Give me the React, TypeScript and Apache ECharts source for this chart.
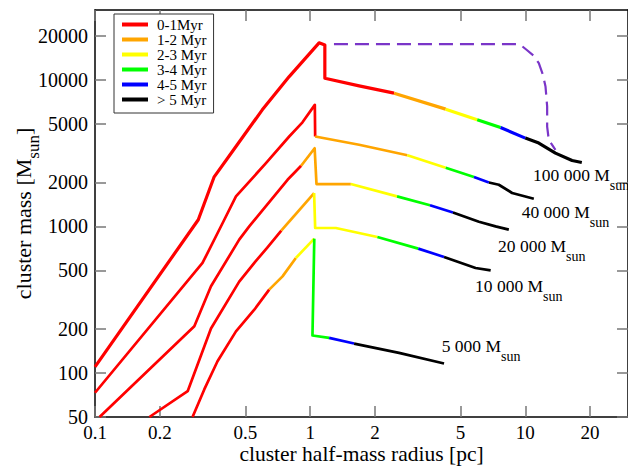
import React, { useEffect, useRef } from "react";
import * as echarts from "echarts";

const FONT = "'Liberation Serif', 'Times New Roman', serif";

const ageBins = ["0-1Myr", "1-2 Myr", "2-3 Myr", "3-4 Myr", "4-5 Myr", "> 5 Myr"];
const ageColors = ["#ff0000", "#ffa500", "#ffff00", "#00ff00", "#0000ff", "#000000"];

const xTicks = [0.1, 0.2, 0.5, 1, 2, 5, 10, 20];
const yTicks = [50, 100, 200, 500, 1000, 2000, 5000, 10000, 20000];
const xRange = [0.1, 30];
const yRange = [50, 30000];

// 100 000 Msun cluster: radius [pc], mass [Msun], age bin of each segment
const r100k = [0.1, 0.302, 0.358, 0.452, 0.599, 0.799, 1.1, 1.17, 1.17, 1.688, 2.454, 4.264, 5.975, 7.67, 10.0, 11.55, 13.8, 16.49, 18.3];
const m100k = [110, 1110, 2180, 3510, 6245, 10530, 17900, 17300, 10270, 9100, 8115, 6315, 5340, 4730, 4005, 3703, 3165, 2818, 2731];
const age100k = [0, 0, 0, 0, 0, 0, 0, 0, 0, 0, 1, 2, 3, 4, 5, 5, 5, 5];

// 40 000 Msun
const r40k = [0.1, 0.316, 0.392, 0.452, 0.623, 0.799, 0.921, 1.051, 1.055, 1.688, 2.83, 4.264, 5.77, 6.77, 7.53, 8.68, 10.95];
const m40k = [73.2, 563, 1055, 1602, 2705, 4108, 5132, 6755, 4108, 3606, 3057, 2512, 2171, 1995, 1924, 1690, 1545];
const age40k = [0, 0, 0, 0, 0, 0, 0, 0, 1, 1, 2, 3, 4, 5, 5, 5];

// 20 000 Msun
const r20k = [0.105, 0.2895, 0.346, 0.468, 0.521, 0.785, 0.908, 1.049, 1.07, 1.545, 2.533, 3.605, 4.61, 6.085, 7.27, 8.38];
const m20k = [50, 208, 390, 812, 1000, 2081, 2593, 3413, 1946, 1946, 1602, 1395, 1243, 1077, 1000, 950];
const age20k = [0, 0, 0, 0, 0, 0, 1, 1, 1, 2, 3, 4, 5, 5, 5];

// 10 000 Msun
const r10k = [0.179, 0.2696, 0.346, 0.468, 0.556, 0.632, 0.734, 1.043, 1.055, 1.316, 2.053, 3.18, 4.19, 5.87, 6.9];
const m10k = [50, 75, 201, 420, 575, 716, 935, 1690, 975, 975, 847, 705, 619, 520, 501];
const age10k = [0, 0, 0, 0, 0, 0, 1, 2, 2, 2, 3, 4, 5, 5];

// 5 000 Msun
const r5k = [0.284, 0.322, 0.371, 0.452, 0.55, 0.645, 0.744, 0.858, 1.045, 1.025, 1.225, 1.6, 2.588, 4.19];
const m5k = [50, 77.1, 120, 192, 270, 370, 456, 609, 825, 180, 173.5, 158.6, 137, 116];
const age5k = [0, 0, 0, 0, 0, 1, 1, 2, 3, 3, 4, 5, 5];

// dashed track
const rDash = [1.29, 9.14, 9.63, 10.16, 10.95, 11.55, 12.07, 12.41, 12.63, 12.63, 12.85, 13.8];
const mDash = [17520, 17520, 17050, 16000, 14580, 13000, 10815, 9000, 6580, 4806, 3900, 3335];

const curveLabels = ["100 000 M", "40 000 M", "20 000 M", "10 000 M", "5 000 M"];

const lg = (v: number) => Math.log10(v);

function nearestLabel(ticks: number[], v: number) {
  let best = ticks[0];
  let d = Infinity;
  for (const t of ticks) {
    const dd = Math.abs(lg(t) - v);
    if (dd < d) {
      d = dd;
      best = t;
    }
  }
  return String(best);
}

function curveSeries(r: number[], m: number[], age: number[], width: number) {
  const out: any[] = [];
  let s = 0;
  for (let k = 1; k <= age.length; k++) {
    if (k === age.length || age[k] !== age[s]) {
      const bin = age[s];
      const pts: number[][] = [];
      for (let j = s; j <= k; j++) pts.push([lg(r[j]), lg(m[j])]);
      out.push({
        type: "line",
        name: ageBins[bin],
        data: pts,
        symbol: "none",
        showSymbol: false,
        silent: true,
        clip: true,
        lineStyle: { color: ageColors[bin], width, join: "round" },
        itemStyle: { color: ageColors[bin] },
        z: 3,
      });
      s = k;
    }
  }
  return out;
}

function subLabel(main: string, x: number, y: number) {
  return {
    type: "text",
    x,
    y,
    z: 20,
    style: {
      text: `{a|${main}}{s|sun}`,
      align: "left",
      verticalAlign: "middle",
      fill: "#000",
      rich: {
        a: { fontFamily: FONT, fontSize: 17.5, lineHeight: 20, fill: "#000" },
        s: { fontFamily: FONT, fontSize: 14, lineHeight: 16, padding: [21, 0, 0, 0], fill: "#000" },
      },
    },
  };
}

export default function App() {
  const ref = useRef<HTMLDivElement>(null);

  useEffect(() => {
    if (!ref.current) return;
    const chart = echarts.init(ref.current, undefined, { renderer: "svg" });

    const xLogTicks = xTicks.map(lg);
    const yLogTicks = yTicks.map(lg);

    const axisCommon = {
      type: "value",
      splitLine: { show: false },
      axisLine: { show: true, onZero: false, lineStyle: { color: "#000", width: 1.5 } },
      axisTick: { show: true, inside: true, length: 11, lineStyle: { color: "#777", width: 1.5 } },
    };

    const series: any[] = [
      ...curveSeries(r100k, m100k, age100k, 3.2),
      ...curveSeries(r40k, m40k, age40k, 2.7),
      ...curveSeries(r20k, m20k, age20k, 2.7),
      ...curveSeries(r10k, m10k, age10k, 2.7),
      ...curveSeries(r5k, m5k, age5k, 2.7),
      {
        type: "line",
        name: "track",
        data: rDash.map((r, i) => [lg(r), lg(mDash[i])]),
        symbol: "none",
        showSymbol: false,
        silent: true,
        lineStyle: { color: "#7a35c8", width: 2.2, type: [14, 7] },
        itemStyle: { color: "#7a35c8" },
        z: 2,
      },
    ];

    chart.setOption({
      animation: false,
      backgroundColor: "#fff",
      grid: { left: 95, right: 0, top: 10, bottom: 49, containLabel: false, outerBoundsMode: "none" },
      legend: {
        data: ageBins,
        orient: "vertical",
        left: 114,
        top: 14,
        itemWidth: 26,
        itemHeight: 4,
        itemGap: 0,
        icon: "rect",
        selectedMode: false,
        padding: [3, 7, 6, 8],
        borderColor: "#333",
        borderWidth: 1,
        backgroundColor: "#fff",
        textStyle: { fontFamily: FONT, fontSize: 15, color: "#000", lineHeight: 14.6, padding: [0, 0, 0, 4] },
        z: 10,
      },
      xAxis: [
        {
          ...axisCommon,
          position: "bottom",
          min: lg(xRange[0]),
          max: lg(xRange[1]),
          axisTick: { ...axisCommon.axisTick, customValues: xLogTicks },
          axisLabel: {
            customValues: xLogTicks,
            formatter: (v: number) => nearestLabel(xTicks, v),
            fontFamily: FONT,
            fontSize: 19,
            lineHeight: 18,
            color: "#000",
            margin: 6,
          },
          name: "cluster half-mass radius [pc]",
          nameLocation: "middle",
          nameGap: 27,
          nameMoveOverlap: false,
          nameTextStyle: { fontFamily: FONT, fontSize: 21.5, color: "#000", lineHeight: 20 },
        },
        {
          ...axisCommon,
          position: "top",
          min: lg(xRange[0]),
          max: lg(xRange[1]),
          axisTick: { ...axisCommon.axisTick, customValues: xLogTicks },
          axisLabel: { show: false },
        },
      ],
      yAxis: [
        {
          ...axisCommon,
          position: "left",
          min: lg(yRange[0]),
          max: lg(yRange[1]),
          axisTick: { ...axisCommon.axisTick, customValues: yLogTicks },
          axisLabel: {
            customValues: yLogTicks,
            formatter: (v: number) => nearestLabel(yTicks, v),
            fontFamily: FONT,
            fontSize: 20,
            color: "#000",
            margin: 7,
          },
          name: "{a|cluster mass [M}{s|sun}{a|]}",
          nameLocation: "middle",
          nameRotate: 90,
          nameGap: 60,
          nameMoveOverlap: false,
          nameTextStyle: {
            rich: {
              a: { fontFamily: FONT, fontSize: 22, lineHeight: 24, color: "#000" },
              s: { fontFamily: FONT, fontSize: 17, lineHeight: 18, padding: [20, 0, 0, 0], color: "#000" },
            },
          },
        },
        {
          ...axisCommon,
          position: "right",
          min: lg(yRange[0]),
          max: lg(yRange[1]),
          axisTick: { ...axisCommon.axisTick, customValues: yLogTicks },
          axisLabel: { show: false },
        },
      ],
      graphic: [
        subLabel(curveLabels[0], 533, 174.5),
        subLabel(curveLabels[1], 521.7, 212),
        subLabel(curveLabels[2], 498, 245.5),
        subLabel(curveLabels[3], 475, 285.5),
        subLabel(curveLabels[4], 441.7, 345.5),
      ],
      series,
    });

    return () => chart.dispose();
  }, []);

  return (
    <div
      ref={ref}
      style={{ position: "fixed", left: 0, top: 0, width: 628, height: 466, background: "#fff" }}
    />
  );
}
